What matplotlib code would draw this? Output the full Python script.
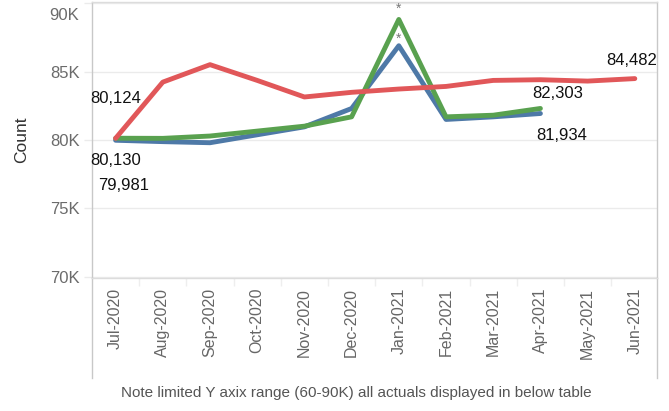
import matplotlib
matplotlib.use("Agg")
import matplotlib.pyplot as plt
import matplotlib.transforms as mtransforms
import numpy as np

plt.rcParams['font.family'] = ['Liberation Sans Narrow', 'Liberation Sans', 'DejaVu Sans']

months = ["Jul-2020", "Aug-2020", "Sep-2020", "Oct-2020", "Nov-2020", "Dec-2020",
          "Jan-2021", "Feb-2021", "Mar-2021", "Apr-2021", "May-2021", "Jun-2021"]
red_vals = [80124, 84225, 85500, 84350, 83140, 83480, 83720, 83910, 84350, 84400, 84300, 84482]
blue_vals = [79981, 79880, 79800, 80380, 80960, 82300, 86880, 81500, 81690, 81934]
green_vals = [80130, 80120, 80290, 80650, 81010, 81690, 88800, 81690, 81810, 82303]
yticks = [70000, 75000, 80000, 85000, 90000]
ytick_labels = ["70K", "75K", "80K", "85K", "90K"]
note = "Note limited Y axix range (60-90K) all actuals displayed in below table"

RED = "#e15759"
BLUE = "#4e79a7"
GREEN = "#59a14f"
GRID = "#ebebeb"
SPINE = "#c8c8c8"

W, H = 669, 411
fig = plt.figure(figsize=(W / 100, H / 100), dpi=100)
ax = fig.add_axes([92 / W, 1 - 278 / H, (657 - 92) / W, (278 - 2) / H])

x_all = np.arange(len(months))
lw = 3.5
ax.plot(x_all[:len(blue_vals)], blue_vals, color=BLUE, lw=lw, solid_capstyle='round', zorder=3)
ax.plot(x_all[:len(green_vals)], green_vals, color=GREEN, lw=lw, solid_capstyle='round', zorder=4)
ax.plot(x_all[:len(red_vals)], red_vals, color=RED, lw=lw, solid_capstyle='round', zorder=5)

ax.set_xlim(-0.5, 11.47)
ax.set_ylim(69927, 90073)

ax.set_yticks(yticks)
ax.set_yticklabels(ytick_labels)
ax.set_xticks(x_all)
ax.set_xticklabels(months, rotation=90)
ax.set_xticks(x_all[:-1] + 0.5, minor=True)

ax.tick_params(axis='y', length=6, color=GRID, width=1, pad=3, labelsize=12, labelcolor="#6b6b6b")
ax.tick_params(axis='x', which='major', length=0, pad=7, labelsize=11.5, labelcolor="#666666")
ax.tick_params(axis='x', which='minor', length=6, color="#eeeeee", width=1)
ax.grid(axis='y', color=GRID, lw=1)
ax.set_axisbelow(True)
for s in ax.spines.values():
    s.set_color(SPINE)
    s.set_linewidth(1)
ax.spines['top'].set_color("#dcdcdc")
ax.spines['bottom'].set_color("#dcdcdc")

# shift top tick label (90K) down like the reference
lab = ax.yaxis.get_major_ticks()[-1].label1
lab.set_transform(lab.get_transform() + mtransforms.ScaledTranslation(0, -11 / 100, fig.dpi_scale_trans))

# extend side borders below plot area
ext = -100 / (278 - 2)
for xa in (0, 1):
    ax.plot([xa, xa], [0, ext], transform=ax.transAxes, color=SPINE, lw=1, clip_on=False)

ax.set_ylabel("Count", fontsize=12.5, color="#333333", labelpad=15)

# data labels
lab_kw = dict(textcoords='offset pixels', ha='center', va='center', fontsize=12, color='#111111')
ax.annotate("80,124", (0, red_vals[0]), xytext=(0, 40), **lab_kw)
ax.annotate("80,130", (0, green_vals[0]), xytext=(0, -22), **lab_kw)
ax.annotate("79,981", (0, blue_vals[0]), xytext=(8, -45), **lab_kw)
ax.annotate("82,303", (len(green_vals) - 1, green_vals[-1]), xytext=(17, 15), **lab_kw)
ax.annotate("81,934", (len(blue_vals) - 1, blue_vals[-1]), xytext=(21, -22), **lab_kw)
ax.annotate("84,482", (len(red_vals) - 1, red_vals[-1]), xytext=(-3, 18), **lab_kw)

# stars above January peaks
jan = months.index("Jan-2021")
star_kw = dict(textcoords='offset pixels', ha='center', va='center', fontsize=10, color='#777777')
ax.annotate("*", (jan, green_vals[jan]), xytext=(0, 11), **star_kw)
ax.annotate("*", (jan, blue_vals[jan]), xytext=(0, 7), **star_kw)

fig.text(356 / W, 1 - 393 / H, note, ha='center', va='center', fontsize=11, color="#555555")

fig.savefig("out.png", dpi=100)
